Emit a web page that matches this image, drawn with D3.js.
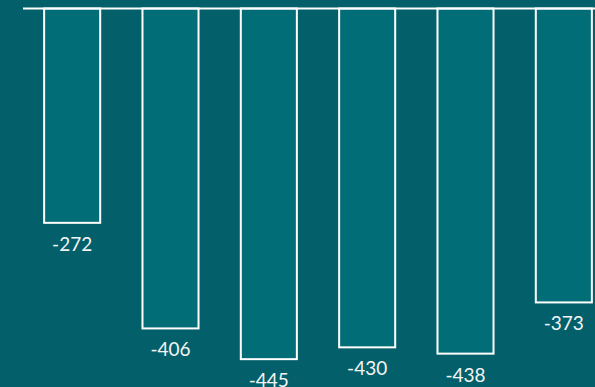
<!DOCTYPE html>
<html>
<head>
<meta charset="utf-8">
<script src="https://cdn.jsdelivr.net/npm/d3@7"></script>
<style>
  html, body { margin: 0; padding: 0; background: #03606b; }
  svg { display: block; }
</style>
</head>
<body>
<svg id="chart" width="595" height="387"></svg>
<script>
const categories = ["1", "2", "3", "4", "5", "6"];
const values = [-272, -406, -445, -430, -438, -373];

const W = 595, H = 387;
const svg = d3.select("#chart");
svg.append("rect").attr("width", W).attr("height", H).attr("fill", "#03606b");

const x = d3.scaleBand().domain(categories).range([23, 613]).paddingInner(0.43).paddingOuter(0.215);
const y = d3.scaleLinear().domain([0, -500]).range([8.5, 402.5]);

svg.selectAll("rect.bar").data(values).join("rect")
  .attr("class", "bar")
  .attr("x", (d, i) => x(categories[i]))
  .attr("y", y(0))
  .attr("width", x.bandwidth())
  .attr("height", d => y(d) - y(0))
  .attr("fill", "#016d76")
  .attr("stroke", "#ffffff")
  .attr("stroke-width", 2);

svg.append("line")
  .attr("x1", x.range()[0]).attr("x2", W)
  .attr("y1", y(0)).attr("y2", y(0))
  .attr("stroke", "#ffffff").attr("stroke-width", 2);

svg.selectAll("text.lbl").data(values).join("text")
  .attr("class", "lbl")
  .attr("x", (d, i) => x(categories[i]) + x.bandwidth() / 2)
  .attr("y", d => y(d) + 28)
  .attr("text-anchor", "middle")
  .attr("fill", "#f4f4f4")
  .attr("font-family", "Lato, 'Open Sans', sans-serif")
  .attr("font-size", 19)
  .text(d => d3.format("d")(d).replace("−", "-"));
</script>
</body>
</html>
